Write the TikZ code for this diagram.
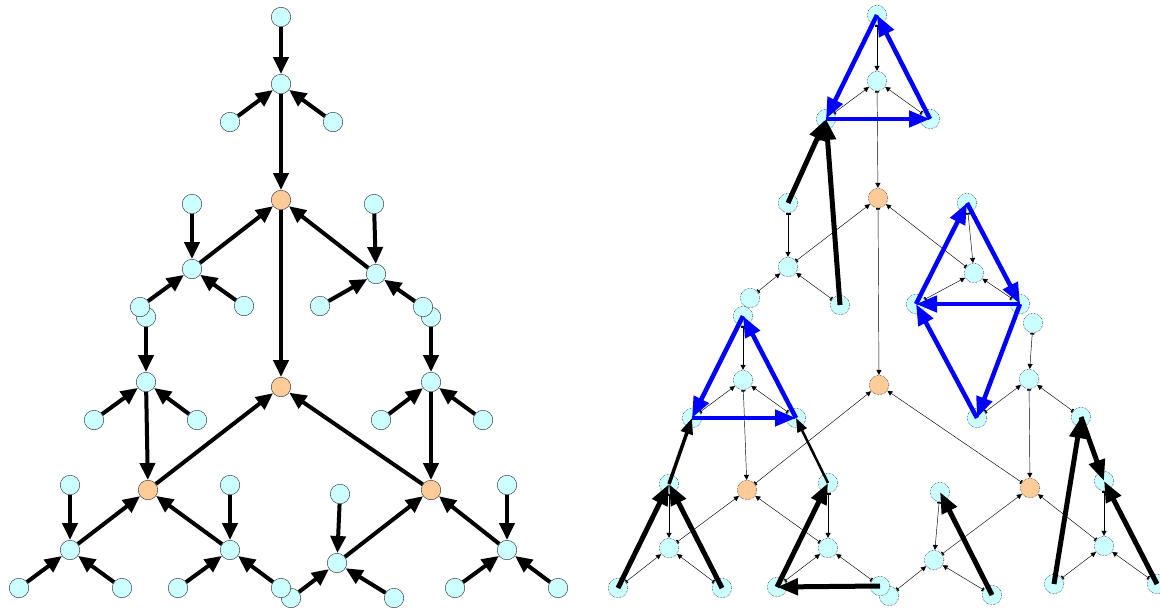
\documentclass[tikz,border=0pt]{standalone}
\usetikzlibrary{arrows.meta}
\definecolor{cy}{HTML}{CCFFFF}
\definecolor{orf}{HTML}{FFCC99}
\begin{document}
\begin{tikzpicture}[x=1pt,y=-1pt,
  nd/.style={circle,draw=black!75,line width=0.5pt,fill=cy,minimum size=19.5pt,inner sep=0pt},
  hub/.style={nd,fill=orf},
  rnd/.style={nd,draw=black!70,densely dotted,line width=0.7pt},
  rhub/.style={rnd,fill=orf},
  big/.style={line width=4pt,-{Triangle[length=17pt,width=15pt]}},
  tn/.style={line width=0.45pt,{Rectangle[length=1.4pt,width=4pt]}-{Triangle[length=5pt,width=5pt]}},
  bl/.style={draw=blue,line width=4.5pt,-{Triangle[length=21pt,width=16pt]}},
  bk/.style={draw=black,line width=5pt,-{Triangle[length=21pt,width=16pt]}},
  bkm/.style={draw=black,line width=3.5pt,-{Triangle[length=16pt,width=12pt]}},
  bks/.style={draw=black,line width=2.5pt,-{Triangle[length=14pt,width=10pt]}},
]
\useasboundingbox (0,0) rectangle (1160,611);
% ---------------- left tree ----------------
\node[nd] (T0) at (281,17) {};
\node[nd] (T1) at (281,84) {};
\node[nd] (T1a) at (230,122) {};
\node[nd] (T1b) at (333,122) {};
\node[hub] (O1) at (281,200) {};
\node[nd] (BLt) at (192,204) {};
\node[nd] (BL) at (192,269) {};
\node[nd] (CLt) at (146,317) {};
\node[nd] (BLa) at (140,307) {};
\node[nd] (BLb) at (244,306) {};
\node[nd] (BRt) at (374,204) {};
\node[nd] (BR) at (376,274) {};
\node[nd] (BRa) at (320,306) {};
\node[nd] (CRt) at (431,317) {};
\node[nd] (BRb) at (423,307) {};
\node[nd] (CL) at (146,382) {};
\node[nd] (CLa) at (94,420) {};
\node[nd] (CLb) at (197,420) {};
\node[nd] (CR) at (431,382) {};
\node[nd] (CRa) at (381,420) {};
\node[nd] (CRb) at (483,420) {};
\node[hub] (O2) at (281,387) {};
\node[hub] (O3) at (148,490) {};
\node[hub] (O4) at (431,490) {};
\node[nd] (D1t) at (70,485) {};
\node[nd] (D1) at (70,550) {};
\node[nd] (D1a) at (19,588) {};
\node[nd] (D1b) at (122,588) {};
\node[nd] (D2t) at (230,485) {};
\node[nd] (D2) at (230,550) {};
\node[nd] (D2a) at (178,588) {};
\node[nd] (D3a) at (291,598) {};
\node[nd] (D2b) at (281,588) {};
\node[nd] (D3t) at (340,494) {};
\node[nd] (D3) at (337,563) {};
\node[nd] (D3b) at (394,598) {};
\node[nd] (D4t) at (507,485) {};
\node[nd] (D4) at (507,550) {};
\node[nd] (D4a) at (455,588) {};
\node[nd] (D4b) at (558,588) {};
\foreach \a/\b in {T0/T1,T1a/T1,T1b/T1,T1/O1,BLt/BL,BLa/BL,BLb/BL,BL/O1,BRt/BR,BRa/BR,BRb/BR,BR/O1,O1/O2,
  CLt/CL,CLa/CL,CLb/CL,CL/O3,CRt/CR,CRa/CR,CRb/CR,CR/O4,O3/O2,O4/O2,
  D1t/D1,D1a/D1,D1b/D1,D1/O3,D2t/D2,D2a/D2,D2b/D2,D2/O3,D3t/D3,D3a/D3,D3b/D3,D3/O4,D4t/D4,D4a/D4,D4b/D4,D4/O4}
  \draw[big] (\a) -- (\b);
% ---------------- right graph ----------------
\node[rnd] (rT0) at (877,15) {};
\node[rnd] (rT1) at (877,81) {};
\node[rnd] (rT1a) at (826,119) {};
\node[rnd] (rT1b) at (930,119) {};
\node[rhub] (rO1) at (878,198) {};
\node[rnd] (rBLt) at (788,203) {};
\node[rnd] (rBL) at (788,267) {};
\node[rnd] (rCLt) at (743,316) {};
\node[rnd] (rBLa) at (750,298) {};
\node[rnd] (rBLb) at (840,305) {};
\node[rnd] (rBRt) at (967,203) {};
\node[rnd] (rBR) at (974,273) {};
\node[rnd] (rBRa) at (916,304) {};
\node[rnd] (rCRt) at (1033,323) {};
\node[rnd] (rBRb) at (1020,304) {};
\node[rnd] (rCL) at (743,380) {};
\node[rnd] (rCLa) at (692,418) {};
\node[rnd] (rCLb) at (796,418) {};
\node[rnd] (rCR) at (1029,379) {};
\node[rnd] (rCRa) at (977,418) {};
\node[rnd] (rCRb) at (1081,417) {};
\node[rhub] (rO2) at (879,385) {};
\node[rhub] (rO3) at (747,490) {};
\node[rhub] (rO4) at (1030,488) {};
\node[rnd] (rD1t) at (669,484) {};
\node[rnd] (rD1) at (669,548) {};
\node[rnd] (rD1a) at (618,588) {};
\node[rnd] (rD1b) at (722,588) {};
\node[rnd] (rD2t) at (828,483) {};
\node[rnd] (rD2) at (828,548) {};
\node[rnd] (rD2a) at (777,587) {};
\node[rnd] (rD3a) at (889,596) {};
\node[rnd] (rD2b) at (880,586) {};
\node[rnd] (rD3t) at (940,492) {};
\node[rnd] (rD3) at (934,560) {};
\node[rnd] (rD3b) at (992,595) {};
\node[rnd] (rD4t) at (1104,481) {};
\node[rnd] (rD4) at (1104,546) {};
\node[rnd] (rD4a) at (1054,584) {};
\node[rnd] (rD4b) at (1157,584) {};
\foreach \a/\b in {T0/T1,T1a/T1,T1b/T1,T1/O1,BLt/BL,BLa/BL,BLb/BL,BL/O1,BRt/BR,BRa/BR,BRb/BR,BR/O1,O1/O2,
  CLt/CL,CLa/CL,CLb/CL,CL/O3,CRt/CR,CRa/CR,CRb/CR,CR/O4,O3/O2,O4/O2,
  D1t/D1,D1a/D1,D1b/D1,D1/O3,D2t/D2,D2a/D2,D2b/D2,D2/O3,D3t/D3,D3a/D3,D3b/D3,D3/O4,D4t/D4,D4a/D4,D4b/D4,D4/O4}
  \draw[tn] (r\a) -- (r\b);
% blue cycles
\foreach \a/\b in {T0/T1a,T1a/T1b,T1b/T0,BRa/BRt,BRt/BRb,BRb/BRa,BRb/CRa,CRa/BRa,CLt/CLa,CLa/CLb,CLb/CLt}
  \draw[bl] (r\a.center) -- (r\b.center);
% black thick paths
\foreach \a/\b in {BLt/T1a,BLb/T1a,D1a/D1t,D1b/D1t,D2a/D2t,D2b/D2a,D3b/D3t,D4a/CRb,CRb/D4t,D4b/D4t}
  \draw[bk] (r\a.center) -- (r\b.center);
\draw[bkm] (rD1t.center) -- (rCLa.center);
\draw[bks] (rD2t.center) -- (rCLb.center);
\end{tikzpicture}
\end{document}
